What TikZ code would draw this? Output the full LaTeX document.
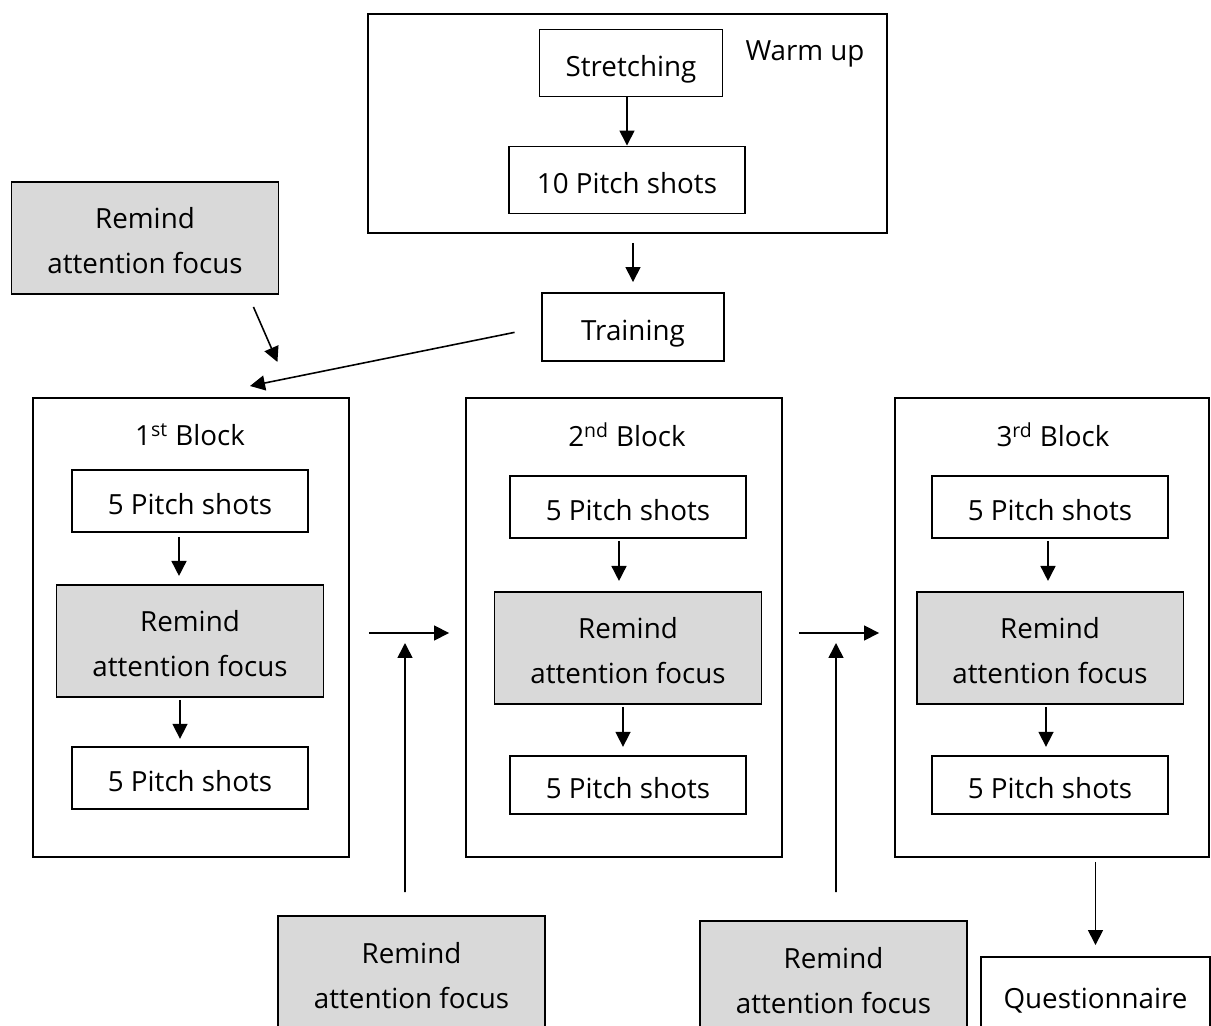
\documentclass[tikz,border=0pt]{standalone}
\usepackage{fontspec}
\setmainfont{Open Sans}
\usetikzlibrary{arrows.meta, positioning}
\definecolor{remindGray}{RGB}{217,217,217}

\begin{document}
\begin{tikzpicture}[
    x=0.02cm, y=-0.02cm,
    node distance=1cm,
    box/.style={rectangle, draw, line width=1.1pt, minimum width=4.72cm, minimum height=1.24cm, inner sep=0pt, text height=15.4pt, text depth=0pt, font=\fontsize{15.8}{25.6}\selectfont, align=center},
    remind/.style={box, fill=remindGray, minimum width=5.34cm, minimum height=2.24cm, text height=40.8pt},
    blockbox/.style={rectangle, draw, line width=1.1pt, minimum width=6.32cm, minimum height=9.18cm, inner sep=0pt},
    title/.style={font=\fontsize{15.8}{18}\selectfont},
    arrow/.style={-{Triangle[length=0.3cm, width=0.3cm]}, line width=0.9pt}
]
\useasboundingbox (0,0) rectangle (1211,1026);
\clip (0,0) rectangle (1211,1026);

% Warm up
\node[blockbox, minimum width=10.38cm, minimum height=4.38cm] (warm) at (627.5,123.5) {};
\node[title] (warmtitle) at (805,54) {Warm up};
\node[box, minimum width=3.66cm, minimum height=1.34cm] (stretch) at (631,63) {Stretching};
\node[box, minimum height=1.34cm] (tenp) at (627,180) {10 Pitch shots};
\node[box, minimum width=3.64cm, minimum height=1.36cm] (train) at (633,327) {Training};

% Reminder before first block
\node[remind] (rem0) at (145,238) {Remind\\attention focus};
\coordinate (b1in) at (250,386);

% Blocks
\node[blockbox] (blk1) at (191,627.5) {};
\node[blockbox] (blk2) at (624,627.5) {};
\node[blockbox, minimum width=6.28cm] (blk3) at (1052,627.5) {};

\node[title] (t1) at (190,435) {1\textsuperscript{st} Block};
\node[title] (t2) at (627,435) {2\textsuperscript{nd} Block};
\node[title] (t3) at (1053,435) {3\textsuperscript{rd} Block};

% 1st block
\node[box] (p1a) at (190,501) {5 Pitch shots};
\node[remind, below=1.02cm of p1a] (r1) {Remind\\attention focus};
\node[box, below=0.96cm of r1] (p1b) {5 Pitch shots};

% 2nd block
\node[box] (p2a) at (628,507) {5 Pitch shots};
\node[remind, below=1.04cm of p2a] (r2) {Remind\\attention focus};
\node[box, minimum height=1.16cm, below=1cm of r2] (p2b) {5 Pitch shots};

% 3rd block
\node[box] (p3a) at (1050,507) {5 Pitch shots};
\node[remind, below=1.04cm of p3a] (r3) {Remind\\attention focus};
\node[box, minimum height=1.16cm, below=1cm of r3] (p3b) {5 Pitch shots};

% Reminders between blocks
\node[remind, minimum height=2.5cm, text height=33.6pt] (remb1) at (411.5,978.5) {Remind\\attention focus};
\node[remind, minimum height=2.5cm, text height=33.6pt] (remb2) at (833.5,983.5) {Remind\\attention focus};
\coordinate (up1) at (405,643);
\coordinate (up2) at (836,643);

% Questionnaire
\node[box, minimum width=4.58cm, minimum height=1.52cm] (quest) at (1095.5,995) {Questionnaire};

% Arrows
\draw[arrow] (tenp.north |- stretch.south) -- (tenp.north);
\draw[arrow, shorten <=0.18cm, shorten >=0.2cm] (train.north |- warm.south) -- (train.north);
\draw[arrow, shorten <=0.54cm] (train.west) -- (b1in);
\draw[arrow] ([shift={(-26,12)}]rem0.south east) -- ([shift={(-2,67)}]rem0.south east);

\draw[arrow, shorten <=0.08cm, shorten >=0.16cm] ([xshift=-0.22cm]p1a.south) -- ([xshift=-0.22cm]p1a.south |- r1.north);
\draw[arrow, shorten <=0.04cm, shorten >=0.14cm] ([xshift=-0.2cm]r1.south) -- ([xshift=-0.2cm]r1.south |- p1b.north);
\draw[arrow, shorten <=0.04cm, shorten >=0.2cm] ([xshift=-0.18cm]p2a.south) -- ([xshift=-0.18cm]p2a.south |- r2.north);
\draw[arrow, shorten <=0.04cm, shorten >=0.16cm] ([xshift=-0.1cm]r2.south) -- ([xshift=-0.1cm]r2.south |- p2b.north);
\draw[arrow, shorten <=0.04cm, shorten >=0.2cm] ([xshift=-0.04cm]p3a.south) -- ([xshift=-0.04cm]p3a.south |- r3.north);
\draw[arrow, shorten <=0.04cm, shorten >=0.16cm] ([xshift=-0.08cm]r3.south) -- ([xshift=-0.08cm]r3.south |- p3b.north);

\draw[arrow, shorten <=0.38cm, shorten >=0.32cm] ([yshift=-0.11cm]blk1.east) -- ([yshift=-0.11cm]blk2.west);
\draw[arrow, shorten <=0.32cm, shorten >=0.3cm] ([yshift=-0.11cm]blk2.east) -- ([yshift=-0.11cm]blk3.west);
\draw[arrow, shorten <=0.46cm] ([xshift=-0.13cm]remb1.north) -- (up1);
\draw[arrow, shorten <=0.56cm] ([xshift=0.05cm]remb2.north) -- (up2);
\draw[arrow, shorten <=0.08cm, shorten >=0.22cm] (blk3.south -| quest.north) -- (quest.north);

\end{tikzpicture}
\end{document}
